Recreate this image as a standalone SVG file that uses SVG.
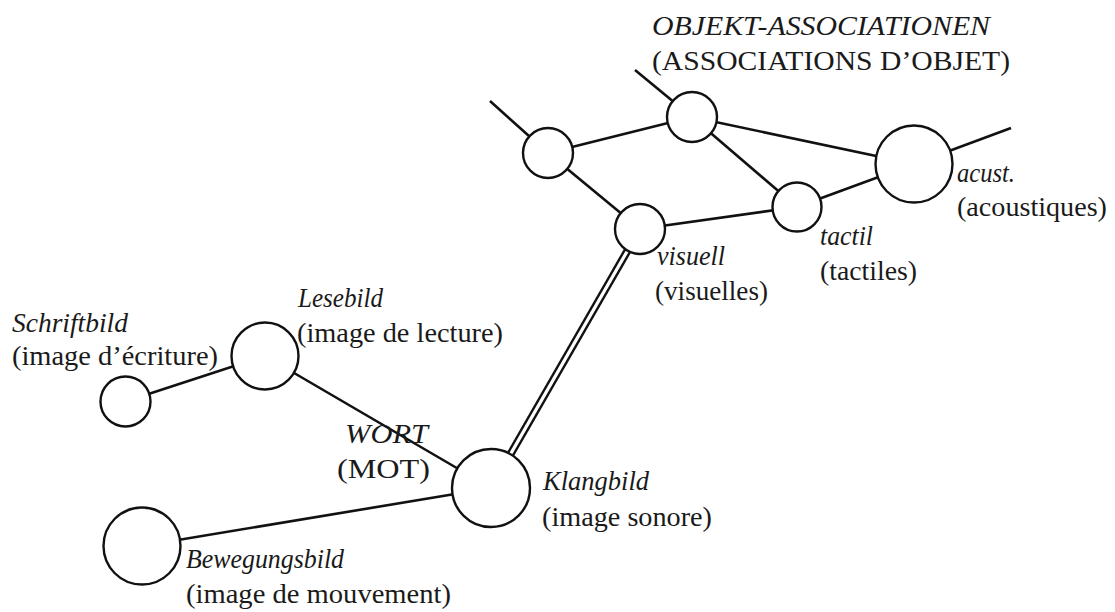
<svg xmlns="http://www.w3.org/2000/svg" width="1115" height="612" viewBox="0 0 1115 612">
<style>
.ln{stroke:#111;stroke-width:2.6;fill:none;stroke-linecap:butt}
.nd{fill:#fff;stroke:#111;stroke-width:2.4}
.tx{font-family:'Liberation Serif','Times New Roman',serif;font-size:28px;fill:#1a1a1a}
.it{font-style:italic}
</style>
<rect width="1115" height="612" fill="#fff"/>
<g id="connectors">
<line class="ln" x1="490" y1="101" x2="548" y2="153"/>
<line class="ln" x1="635" y1="70" x2="692" y2="117"/>
<line class="ln" x1="548" y1="153" x2="692" y2="117"/>
<line class="ln" x1="548" y1="153" x2="640" y2="229"/>
<line class="ln" x1="692" y1="117" x2="914" y2="164"/>
<line class="ln" x1="692" y1="117" x2="797" y2="207"/>
<line class="ln" x1="640" y1="229" x2="797" y2="207"/>
<line class="ln" x1="797" y1="207" x2="914" y2="164"/>
<line class="ln" x1="914" y1="164" x2="1011" y2="128"/>
<line class="ln" x1="125.5" y1="401.5" x2="265" y2="356"/>
<line class="ln" x1="265" y1="356" x2="491" y2="488"/>
<line class="ln" x1="142" y1="546" x2="491" y2="488"/>
<g id="double-link">
<line x1="640" y1="229" x2="491" y2="488" stroke="#111" stroke-width="8"/>
<line x1="640" y1="229" x2="491" y2="488" stroke="#fff" stroke-width="3.2"/>
</g>
</g>
<g id="objekt-label" class="tx">
<text class="it" x="652" y="35" textLength="338" lengthAdjust="spacingAndGlyphs">OBJEKT-ASSOCIATIONEN</text>
<text x="652" y="70" textLength="358" lengthAdjust="spacingAndGlyphs">(ASSOCIATIONS D’OBJET)</text>
</g>
<g id="node-obj-left"><circle class="nd" cx="548" cy="153" r="25"/></g>
<g id="node-obj-mid"><circle class="nd" cx="692" cy="117" r="25"/></g>
<g id="node-acust" class="tx">
<circle class="nd" cx="914" cy="164" r="38.5"/>
<text class="it" x="957" y="182" textLength="58" lengthAdjust="spacingAndGlyphs">acust.</text>
<text x="957" y="216" textLength="150" lengthAdjust="spacingAndGlyphs">(acoustiques)</text>
</g>
<g id="node-tactil" class="tx">
<circle class="nd" cx="797" cy="207" r="24.5"/>
<text class="it" x="820" y="245" textLength="53" lengthAdjust="spacingAndGlyphs">tactil</text>
<text x="820" y="280" textLength="97" lengthAdjust="spacingAndGlyphs">(tactiles)</text>
</g>
<g id="node-visuell" class="tx">
<circle class="nd" cx="640" cy="229" r="25"/>
<text class="it" x="657" y="265" textLength="68" lengthAdjust="spacingAndGlyphs">visuell</text>
<text x="655" y="300" textLength="113" lengthAdjust="spacingAndGlyphs">(visuelles)</text>
</g>
<g id="node-lesebild" class="tx">
<circle class="nd" cx="265" cy="356" r="33.5"/>
<text class="it" x="298" y="307" textLength="85" lengthAdjust="spacingAndGlyphs">Lesebild</text>
<text x="297" y="342" textLength="206" lengthAdjust="spacingAndGlyphs">(image de lecture)</text>
</g>
<g id="node-schriftbild" class="tx">
<circle class="nd" cx="125.5" cy="401.5" r="25"/>
<text class="it" x="12" y="332" textLength="116" lengthAdjust="spacingAndGlyphs">Schriftbild</text>
<text x="12" y="365" textLength="206" lengthAdjust="spacingAndGlyphs">(image d’écriture)</text>
</g>
<g id="wort-label" class="tx">
<text class="it" x="345" y="443" textLength="83" lengthAdjust="spacingAndGlyphs">WORT</text>
<text x="337" y="478" textLength="93" lengthAdjust="spacingAndGlyphs">(MOT)</text>
</g>
<g id="node-klangbild" class="tx">
<circle class="nd" cx="491" cy="488" r="39"/>
<text class="it" x="543" y="490" textLength="106" lengthAdjust="spacingAndGlyphs">Klangbild</text>
<text x="542" y="526" textLength="170" lengthAdjust="spacingAndGlyphs">(image sonore)</text>
</g>
<g id="node-bewegungsbild" class="tx">
<circle class="nd" cx="142" cy="546" r="38.5"/>
<text class="it" x="186" y="568" textLength="158" lengthAdjust="spacingAndGlyphs">Bewegungsbild</text>
<text x="186" y="603" textLength="265" lengthAdjust="spacingAndGlyphs">(image de mouvement)</text>
</g>
</svg>
